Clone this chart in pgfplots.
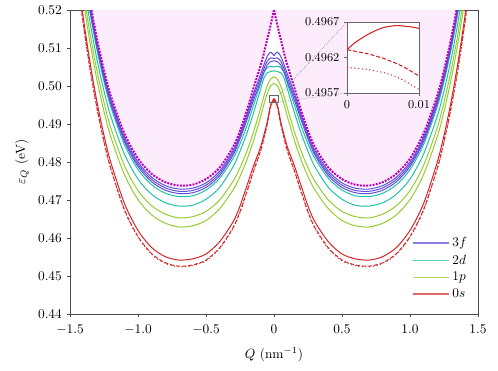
\documentclass[border=0pt]{standalone}
\usepackage{pgfplots}
\pgfplotsset{compat=1.18}
\usepackage{pgfplotstable}
\usepgfplotslibrary{fillbetween}

\definecolor{cM}{RGB}{191,0,191}
\definecolor{cF}{RGB}{95,78,218}
\definecolor{cD}{RGB}{35,192,170}
\definecolor{cP}{RGB}{150,205,50}
\definecolor{cS}{RGB}{212,38,40}
\definecolor{bgpink}{RGB}{252,236,252}

% half of each band (Q >= 0); the Q < 0 side is the mirror image
\pgfplotstableread{
Q     M      B1     B2     B3     T1     T2     G1     G2     R1     R2     R3
0     0.5200 0.5080 0.5072 0.5066 0.5050 0.5040 0.5024 0.5007 0.4967 0.4963 0.4961
0.025 0.5160 0.5089 0.5074 0.5064 0.5052 0.5038 0.5018 0.5000 0.4950 0.4946 0.4944
0.05  0.5122 0.5078 0.5065 0.5055 0.5048 0.5035 0.5000 0.4980 0.4905 0.4900 0.4898
0.075 0.5085 0.5055 0.5045 0.5035 0.5035 0.5020 0.4972 0.4950 0.4870 0.4862 0.4860
0.1   0.5052 0.5030 0.5020 0.5010 0.5005 0.4990 0.4940 0.4917 0.4838 0.4828 0.4826
0.15  0.4995 0.4980 0.4972 0.4963 0.4950 0.4930 0.4880 0.4857 0.4790 0.4777 0.4775
0.2   0.4935 0.4924 0.4917 0.4910 0.4895 0.4875 0.4828 0.4805 0.4737 0.4722 0.4720
0.25  0.4882 0.4873 0.4867 0.4861 0.4848 0.4828 0.4785 0.4762 0.4684 0.4669 0.4667
0.3   0.4840 0.4831 0.4825 0.4819 0.4810 0.4788 0.4750 0.4727 0.4643 0.4628 0.4626
0.4   0.4785 0.4776 0.4770 0.4764 0.4757 0.4733 0.4700 0.4677 0.4590 0.4574 0.4572
0.5   0.4755 0.4745 0.4739 0.4733 0.4726 0.4702 0.4670 0.4646 0.4558 0.4542 0.4540
0.6   0.4740 0.4731 0.4725 0.4719 0.4711 0.4686 0.4656 0.4632 0.4545 0.4529 0.4527
0.7   0.4738 0.4729 0.4723 0.4717 0.4709 0.4684 0.4653 0.4629 0.4542 0.4526 0.4524
0.8   0.4747 0.4738 0.4732 0.4726 0.4718 0.4693 0.4663 0.4639 0.4551 0.4535 0.4533
0.9   0.4769 0.4760 0.4754 0.4748 0.4740 0.4715 0.4685 0.4661 0.4575 0.4559 0.4557
1.0   0.4809 0.4800 0.4794 0.4788 0.4780 0.4755 0.4725 0.4701 0.4620 0.4604 0.4602
1.1   0.4875 0.4866 0.4860 0.4854 0.4846 0.4821 0.4791 0.4767 0.4691 0.4675 0.4673
1.2   0.4974 0.4965 0.4959 0.4953 0.4945 0.4920 0.4890 0.4866 0.4799 0.4783 0.4781
1.25  0.5041 0.5032 0.5026 0.5020 0.5012 0.4987 0.4957 0.4933 0.4870 0.4854 0.4852
1.3   0.5121 0.5112 0.5106 0.5100 0.5092 0.5067 0.5037 0.5013 0.4955 0.4939 0.4937
1.35  0.5216 0.5207 0.5201 0.5195 0.5187 0.5162 0.5132 0.5108 0.5056 0.5040 0.5038
1.4   0.5328 0.5319 0.5313 0.5307 0.5299 0.5274 0.5244 0.5220 0.5174 0.5158 0.5156
1.45  0.5460 0.5451 0.5445 0.5439 0.5431 0.5406 0.5376 0.5352 0.5313 0.5297 0.5295
}\qtab

% zoom near Q = 0 for the 0s states
\pgfplotstableread{
Q     S       D       P
0     0.49631 0.49631 0.49606
0.001 0.49640 0.49629 0.49605
0.002 0.49647 0.49627 0.49604
0.003 0.49653 0.49625 0.49603
0.004 0.49658 0.49622 0.49601
0.005 0.49662 0.49619 0.49599
0.006 0.49664 0.49615 0.49596
0.007 0.49665 0.49611 0.49592
0.008 0.49664 0.49606 0.49587
0.009 0.49663 0.49600 0.49581
0.010 0.49661 0.49594 0.49575
}\ztab

\newcommand{\both}[2]{%
  \addplot[#1, smooth, forget plot] table[x=Q, y=#2] {\qtab};
  \addplot[#1, smooth, forget plot] table[x expr=-\thisrow{Q}, y=#2] {\qtab};
}

\begin{document}
\begin{tikzpicture}
\begin{axis}[
  at={(0,0)}, anchor=south west, scale only axis,
  width=306pt, height=228pt,
  xmin=-1.5, xmax=1.5, ymin=0.44, ymax=0.52,
  xtick={-1.5,-1,-0.5,0,0.5,1,1.5},
  xticklabels={$-1.5$,$-1.0$,$-0.5$,$0$,$0.5$,$1.0$,$1.5$},
  ytick={0.44,0.45,0.46,0.47,0.48,0.49,0.50,0.51,0.52},
  yticklabel style={/pgf/number format/fixed, /pgf/number format/precision=2,
    /pgf/number format/fixed zerofill},
  xticklabel style={yshift=-2pt},
  scaled ticks=false,
  tick align=outside, tick pos=left, major tick length=2.6pt,
  axis line style={black!70}, tick style={black!70},
  xlabel={$Q$ (nm$^{-1}$)}, ylabel={$\varepsilon_Q$ (eV)},
  xlabel style={yshift=-3pt},
  legend style={draw=none, fill=none, at={(0.99,0.03)}, anchor=south east,
    row sep=0.5pt},
  legend cell align=left,
  legend image code/.code={\draw[#1, line width=1.3pt] (0cm,0cm) -- (0.95cm,0cm);},
]
\addlegendimage{cF!75}
\addlegendentry{$3f$}
\addlegendimage{cD!75}
\addlegendentry{$2d$}
\addlegendimage{cP!75}
\addlegendentry{$1p$}
\addlegendimage{cS!70}
\addlegendentry{$0s$}

% shaded continuum above the edge
\addplot[draw=none, smooth, name path=mr, forget plot] table[x=Q, y=M] {\qtab};
\addplot[draw=none, name path=tr, forget plot] coordinates {(-0.02,0.53) (1.5,0.53)};
\addplot[fill=bgpink, draw=none, forget plot] fill between[of=mr and tr];
\addplot[draw=none, smooth, name path=ml, forget plot] table[x expr=-\thisrow{Q}, y=M] {\qtab};
\addplot[draw=none, name path=tl, forget plot] coordinates {(0.02,0.53) (-1.5,0.53)};
\addplot[fill=bgpink, draw=none, forget plot] fill between[of=ml and tl];

\both{cS, line width=0.75pt}{R1}
\both{cS, line width=0.75pt, dash pattern=on 3pt off 1.5pt}{R2}
\both{cS, line width=0.75pt, dotted}{R3}
\both{cP, line width=0.75pt}{G2}
\both{cP, line width=0.75pt}{G1}
\both{cD, line width=0.75pt}{T2}
\both{cD, line width=0.75pt}{T1}
\both{cF, line width=0.75pt}{B3}
\both{cF, line width=0.75pt}{B2}
\both{cF, line width=0.75pt}{B1}
\both{cM, line width=1.5pt, dash pattern=on 1.5pt off 0.9pt}{M}

\draw[black!60, line width=0.4pt] (axis cs:-0.035,0.4958) rectangle (axis cs:0.035,0.4976);
\coordinate (c1) at (axis cs:0.035,0.4976);
\coordinate (c2) at (axis cs:0.035,0.4958);
\end{axis}

\begin{axis}[
  name=ins, at={(207.75pt,165.75pt)}, anchor=south west, scale only axis,
  width=54pt, height=53.25pt,
  xmin=0, xmax=0.01, ymin=0.4957, ymax=0.4967,
  xtick={0,0.01}, xticklabels={$0$,$0.01$},
  ytick={0.4957,0.4962,0.4967}, yticklabels={$0.4957$,$0.4962$,$0.4967$},
  scaled ticks=false,
  tick align=outside, tick pos=left, major tick length=2.2pt,
  ticklabel style={font=\small},
  axis line style={black!60}, tick style={black!60},
  axis background/.style={fill=white},
]
\addplot[cS, line width=0.8pt, smooth] table[x=Q, y=S] {\ztab};
\addplot[cS, line width=0.8pt, smooth, dash pattern=on 3pt off 1.5pt] table[x=Q, y=D] {\ztab};
\addplot[cS, line width=0.8pt, smooth, dotted] table[x=Q, y=P] {\ztab};
\end{axis}

\draw[black!60, densely dotted, line width=0.4pt] (c1) -- (ins.north west);
\draw[black!60, densely dotted, line width=0.4pt] (c2) -- (ins.south west);
\pgfresetboundingbox
\path[use as bounding box] (-52.5pt,-42pt) rectangle (321pt,235.5pt);
\end{tikzpicture}
\end{document}
